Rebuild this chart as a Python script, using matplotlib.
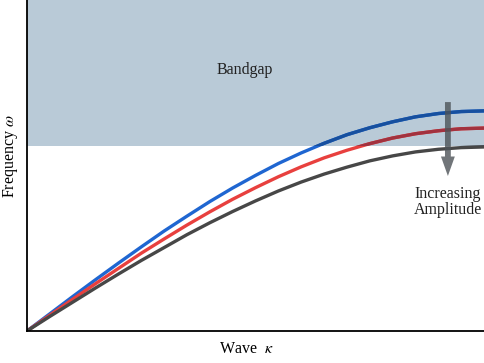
import numpy as np
import matplotlib.pyplot as plt
from matplotlib.patches import Rectangle

plt.rcParams['font.family'] = ['Liberation Serif', 'DejaVu Serif']
plt.rcParams['mathtext.fontset'] = 'stix'

# dispersion branches, read along wave number 0..1
kappa = [0.0, 0.05, 0.1, 0.15, 0.2, 0.25, 0.3, 0.35, 0.4, 0.45, 0.5,
         0.55, 0.6, 0.65, 0.7, 0.75, 0.8, 0.85, 0.9, 0.95, 1.0]
omega_low = [0.0, 0.052, 0.104, 0.155, 0.205, 0.254, 0.302, 0.347, 0.391, 0.432, 0.470,
             0.506, 0.538, 0.567, 0.593, 0.614, 0.632, 0.647, 0.657, 0.663, 0.665]
omega_mid = [0.0, 0.048, 0.096, 0.143, 0.189, 0.235, 0.278, 0.320, 0.360, 0.398, 0.433,
             0.466, 0.496, 0.523, 0.546, 0.566, 0.583, 0.596, 0.605, 0.611, 0.613]
omega_high = [0.0, 0.044, 0.087, 0.130, 0.172, 0.213, 0.252, 0.291, 0.327, 0.361, 0.393,
              0.423, 0.450, 0.474, 0.495, 0.514, 0.529, 0.541, 0.549, 0.554, 0.556]

bandgap_edge = 0.559
arrow_top = 0.70
arrow_tip = 0.46

branches = [
    (omega_low, '#1f66d1', '#17509f'),
    (omega_mid, '#e8403e', '#a2323f'),
    (omega_high, '#474747', '#3a4048'),
]

fig = plt.figure(figsize=(4.84, 3.63), dpi=100)
ax = fig.add_axes([27 / 484, 32 / 363, 457 / 484, 331 / 363])

ax.set_xlim(0, 1)
ax.set_ylim(0, 1)

band = Rectangle((0, bandgap_edge), 1, 1 - bandgap_edge,
                 facecolor='#b9cad7', edgecolor='none', zorder=1)
ax.add_patch(band)

for omega, color, shaded in branches:
    ax.plot(kappa, omega, color=color, lw=2.4, zorder=2, solid_capstyle='round')
    # darker tone where the branch sits inside the gap
    seg, = ax.plot(kappa, omega, color=shaded, lw=2.4, zorder=3)
    seg.set_clip_path(band)

ax.annotate('', xy=(0.921, arrow_tip), xytext=(0.921, arrow_top),
            arrowprops=dict(arrowstyle='simple,head_width=1.0,head_length=1.4,tail_width=0.42',
                            color='#4d5358', alpha=0.8, lw=0),
            zorder=4)

ax.text(0.477, 0.79, 'Bandgap', ha='center', va='center', fontsize=11.5, color='#222222')
ax.text(0.921, 0.39, 'Increasing\nAmplitude', ha='center', va='center',
        fontsize=11.5, color='#222222', linespacing=1.05)

ax.set_xticks([])
ax.set_yticks([])
for side in ['top', 'right']:
    ax.spines[side].set_visible(False)
for side in ['left', 'bottom']:
    ax.spines[side].set_linewidth(1.3)
    ax.spines[side].set_zorder(5)

ax.set_xlabel(r'Wave  $\kappa$', fontsize=11.5)
ax.set_ylabel(r'Frequency $\omega$', fontsize=11.5)
ax.xaxis.set_label_coords(0.48, -0.03)
ax.yaxis.set_label_coords(-0.016, 0.53)

fig.savefig('out.png', dpi=100)
